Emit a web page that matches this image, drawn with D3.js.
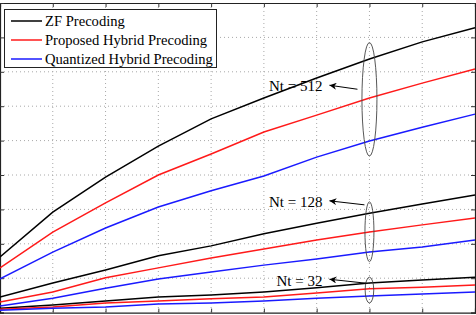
<!DOCTYPE html>
<html>
<head>
<meta charset="utf-8">
<script src="https://cdn.jsdelivr.net/npm/d3@7"></script>
<style>
  body { margin: 0; background: #fff; }
  svg { display: block; }
  .grid line { stroke: #a8a8a8; stroke-dasharray: 1,3; stroke-width: 1; }
  text { font-family: "Liberation Serif", "Times New Roman", serif; }
</style>
</head>
<body>
<div id="chart"></div>
<script>
// SNR (dB) on x, sum rate on y -- axis labels are cropped out of the reference
const snr = [-10, -5, 0, 5, 10, 15, 20, 25, 30, 35];
const yTicks = [0, 10, 20, 30, 40, 50, 60, 70, 80, 90];

const zf512    = [16.2, 29.2, 39.4, 48.4, 56.3, 62.4, 68.2, 73.7, 78.7, 82.8];
const hyb512   = [13.0, 23.4, 31.9, 40.0, 46.1, 52.5, 57.4, 62.4, 66.7, 70.8];
const quant512 = [9.8, 17.6, 24.6, 30.7, 35.4, 39.7, 45.2, 49.9, 53.9, 57.7];

const zf128    = [4.5, 8.6, 12.4, 16.5, 19.4, 22.9, 26.0, 28.9, 31.6, 34.2];
const hyb128   = [3.1, 6.0, 10.1, 13.0, 15.9, 18.5, 21.1, 23.4, 25.5, 27.5];
const quant128 = [1.9, 4.2, 7.1, 9.8, 11.8, 13.8, 15.6, 17.6, 19.1, 21.1];

const zf32     = [1.3, 2.2, 3.4, 4.5, 5.1, 6.0, 7.2, 8.6, 9.5, 10.3];
const hyb32    = [1.0, 1.6, 2.8, 3.4, 4.0, 4.5, 5.7, 6.9, 7.4, 8.0];
const quant32  = [0.7, 1.3, 1.6, 2.5, 2.8, 3.4, 4.2, 4.8, 5.4, 6.0];

const legendNames = ["ZF Precoding", "Proposed Hybrid Precoding", "Quantized Hybrid Precoding"];
const colors = ["#000000", "#ff1a1a", "#1a1aff"];

// annotation groups: label, snr where the ellipse sits, ellipse top/bottom values
const groups = [
  { label: "Nt = 512", at: 25, top: 78.5, bottom: 45.5, textY: 65.8, rx: 7.5, gap: 12 },
  { label: "Nt = 128", at: 25, top: 32.2, bottom: 14.8, textY: 32.2, rx: 4.5, gap: 5 },
  { label: "Nt = 32",  at: 25, top: 10.3, bottom: 2.8,  textY: 9.4,  rx: 4.3, gap: 3 }
];

const width = 476, height = 315;
const margin = { top: 3, right: 1, bottom: 2.4, left: 0 };

const svg = d3.select("#chart").append("svg")
  .attr("width", width)
  .attr("height", height);

const x = d3.scaleLinear()
  .domain([snr[0], snr[snr.length - 1]])
  .range([margin.left, width - margin.right]);

const y = d3.scaleLinear()
  .domain([0, 90])
  .range([height - margin.bottom, margin.top]);

// dotted grid
const grid = svg.append("g").attr("class", "grid");
grid.selectAll("line.v")
  .data(snr.slice(1, -1))
  .join("line")
  .attr("class", "v")
  .attr("x1", d => x(d)).attr("x2", d => x(d))
  .attr("y1", y(90)).attr("y2", y(0));
grid.selectAll("line.h")
  .data(yTicks.slice(1, -1))
  .join("line")
  .attr("class", "h")
  .attr("x1", x(snr[0])).attr("x2", x(snr[snr.length - 1]))
  .attr("y1", d => y(d)).attr("y2", d => y(d));

// axes with inward ticks on all four sides
const tickLen = 4;
function frameAxis(axis, tr) {
  const g = svg.append("g")
    .attr("transform", tr)
    .call(axis.tickSize(tickLen).tickFormat(""));
  g.select(".domain").attr("stroke", "#222").attr("stroke-width", 1.2);
  g.selectAll(".tick line").attr("stroke", "#333");
  return g;
}
frameAxis(d3.axisTop(x).tickValues(snr), `translate(0,${y(0)})`);
frameAxis(d3.axisBottom(x).tickValues(snr), `translate(0,${y(90)})`);
frameAxis(d3.axisRight(y).tickValues(yTicks), `translate(${x(snr[0])},0)`);
frameAxis(d3.axisLeft(y).tickValues(yTicks), `translate(${x(snr[snr.length - 1])},0)`);

// curves
const line = d3.line()
  .x((d, i) => x(snr[i]))
  .y(d => y(d));

const series = [
  [zf512, 0], [hyb512, 1], [quant512, 2],
  [zf128, 0], [hyb128, 1], [quant128, 2],
  [zf32, 0], [hyb32, 1], [quant32, 2]
];

svg.append("g")
  .selectAll("path")
  .data(series)
  .join("path")
  .attr("fill", "none")
  .attr("stroke", d => colors[d[1]])
  .attr("stroke-width", 1.5)
  .attr("d", d => line(d[0]));

// annotations
svg.append("defs").append("marker")
  .attr("id", "arrow")
  .attr("viewBox", "0 0 10 10")
  .attr("refX", 10).attr("refY", 5)
  .attr("markerWidth", 10).attr("markerHeight", 7)
  .attr("markerUnits", "userSpaceOnUse")
  .attr("orient", "auto")
  .append("path")
  .attr("d", "M10,5 L0,0 L3,5 L0,10 Z")
  .attr("fill", "#000");

const ann = svg.append("g").selectAll("g")
  .data(groups)
  .join("g");

ann.append("ellipse")
  .attr("cx", d => x(d.at))
  .attr("cy", d => (y(d.top) + y(d.bottom)) / 2)
  .attr("rx", d => d.rx)
  .attr("ry", d => (y(d.bottom) - y(d.top)) / 2)
  .attr("fill", "none")
  .attr("stroke", "#444")
  .attr("stroke-width", 0.9);

ann.append("line")
  .attr("x1", d => x(d.at) - d.gap)
  .attr("y1", d => y(d.textY) + 3)
  .attr("x2", d => x(d.at) - 40)
  .attr("y2", d => y(d.textY) - 1)
  .attr("stroke", "#000")
  .attr("stroke-width", 1)
  .attr("marker-end", "url(#arrow)");

ann.append("text")
  .attr("x", d => x(d.at) - 47)
  .attr("y", d => y(d.textY))
  .attr("dy", "0.35em")
  .attr("text-anchor", "end")
  .attr("font-size", 15)
  .text(d => d.label);

// legend
const legend = svg.append("g").attr("transform", "translate(4.5,9.5)");
legend.append("rect")
  .attr("width", 212).attr("height", 58)
  .attr("fill", "#fff")
  .attr("stroke", "#222")
  .attr("stroke-width", 1);

const rows = legend.selectAll("g.row")
  .data(legendNames)
  .join("g")
  .attr("class", "row")
  .attr("transform", (d, i) => `translate(0,${11.5 + i * 19})`);

rows.append("line")
  .attr("x1", 6.5).attr("x2", 37.5)
  .attr("stroke", (d, i) => colors[i])
  .attr("stroke-width", 1.5);

rows.append("text")
  .attr("x", 40.5)
  .attr("dy", "0.35em")
  .attr("font-size", 14.6)
  .text(d => d);
</script>
</body>
</html>
